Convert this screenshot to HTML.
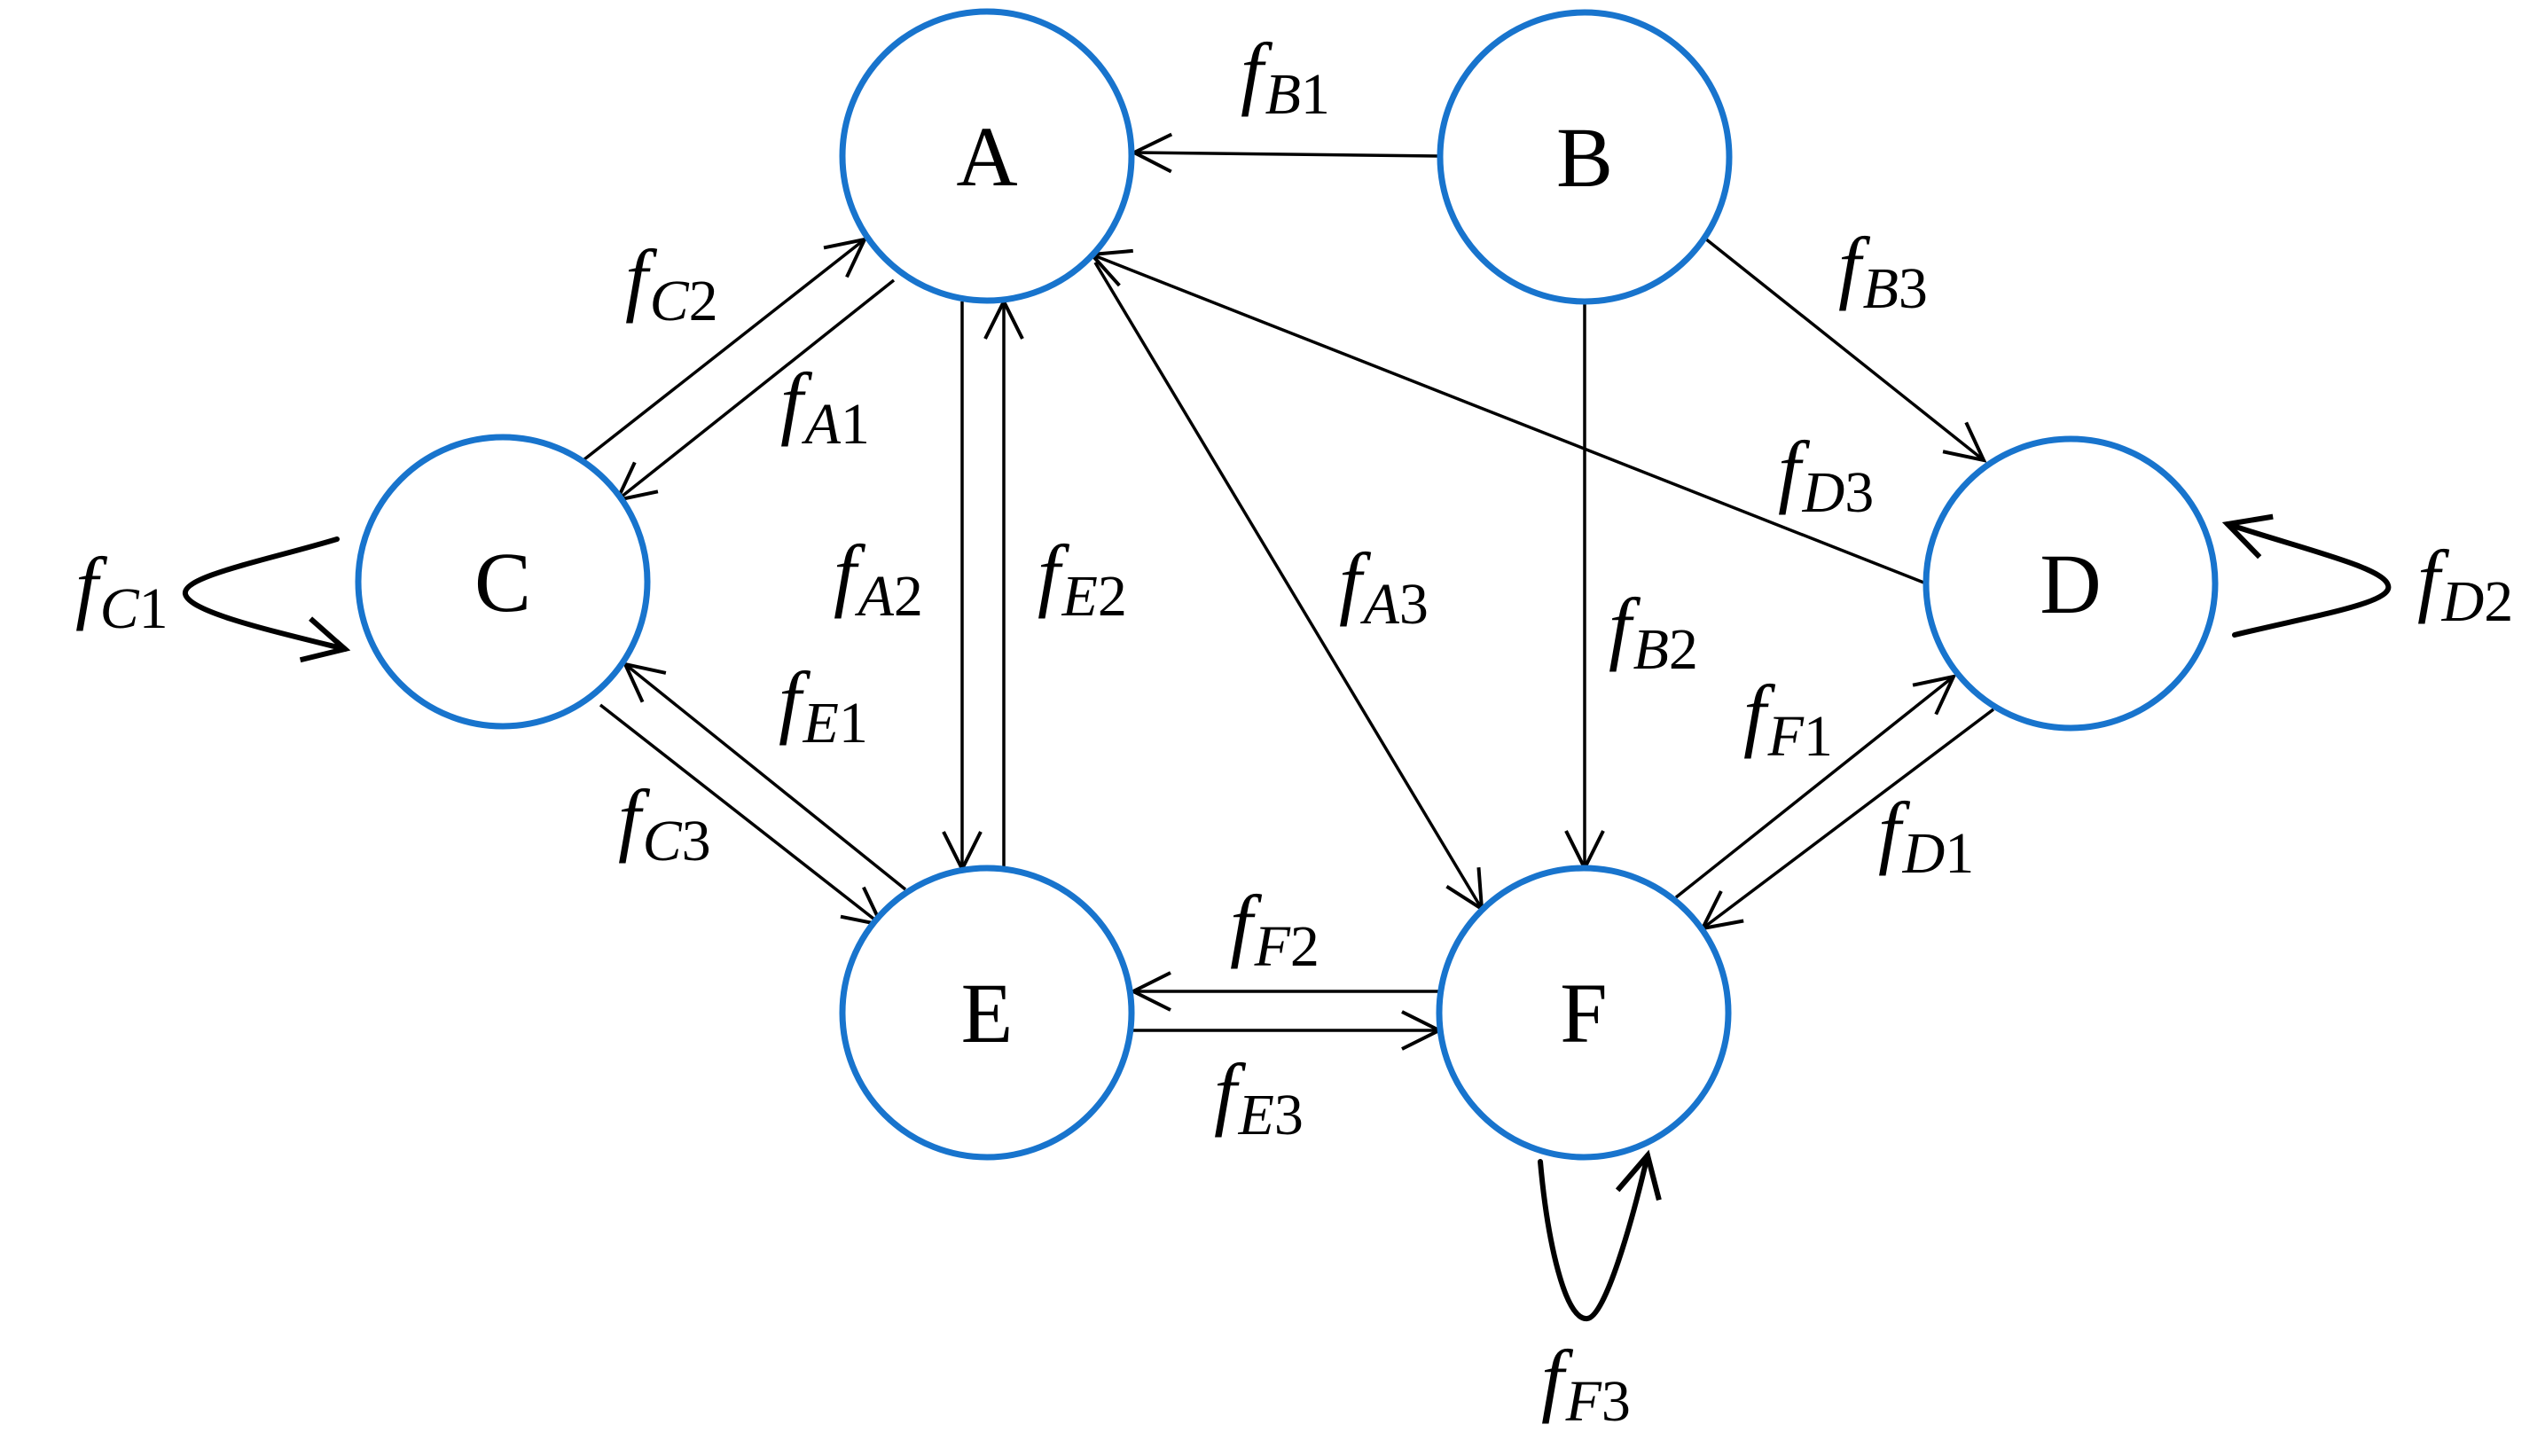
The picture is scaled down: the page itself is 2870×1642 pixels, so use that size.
<!DOCTYPE html>
<html><head><meta charset="utf-8"><style>
html,body{margin:0;padding:0;background:#fff;}
svg{display:block;}
.n{fill:#fff;stroke:#1874CD;stroke-width:7;}
.e{stroke:#000;stroke-width:3.5;fill:none;}
.l{stroke:#000;stroke-width:6;fill:none;stroke-linecap:round;}
.nl{font-family:"Liberation Serif",serif;font-size:96px;text-anchor:middle;fill:#000;}
.lb{font-family:"Liberation Serif",serif;fill:#000;}
</style></head><body>
<svg width="2870" height="1642" viewBox="0 0 2870 1642" xmlns="http://www.w3.org/2000/svg">
<defs>
<marker id="ar" markerUnits="userSpaceOnUse" markerWidth="80" markerHeight="80" refX="0" refY="0" viewBox="-60 -40 70 80" orient="auto">
<path d="M-42,-21 L0,0 L-42,21" fill="none" stroke="#000" stroke-width="4"/>
</marker>
<marker id="ar2" markerUnits="userSpaceOnUse" markerWidth="90" markerHeight="90" refX="0" refY="0" viewBox="-60 -45 70 90" orient="auto">
<path d="M-46,-24 L0,0 L-46,24" fill="none" stroke="#000" stroke-width="6"/>
</marker>
</defs>

<line class="e" x1="1623" y1="176" x2="1279" y2="172" marker-end="url(#ar)"/>
<line class="e" x1="1923" y1="269" x2="2237" y2="519" marker-end="url(#ar)"/>
<line class="e" x1="1787" y1="340" x2="1787" y2="979" marker-end="url(#ar)"/>
<line class="e" x1="659" y1="518" x2="975" y2="270" marker-end="url(#ar)"/>
<line class="e" x1="1008" y1="316" x2="696" y2="564" marker-end="url(#ar)"/>
<line class="e" x1="1085" y1="340" x2="1085" y2="980" marker-end="url(#ar)"/>
<line class="e" x1="1132" y1="980" x2="1132" y2="340" marker-end="url(#ar)"/>
<line class="e" x1="1235" y1="296" x2="1671" y2="1025" marker-end="url(#ar)"/>
<line class="e" x1="2172" y1="658" x2="1231" y2="287" marker-end="url(#ar)"/>
<line class="e" x1="677" y1="795" x2="994" y2="1043" marker-end="url(#ar)"/>
<line class="e" x1="1021" y1="1003" x2="705" y2="749" marker-end="url(#ar)"/>
<line class="e" x1="1623" y1="1118" x2="1278" y2="1118" marker-end="url(#ar)"/>
<line class="e" x1="1278" y1="1162" x2="1623" y2="1162" marker-end="url(#ar)"/>
<line class="e" x1="1890" y1="1012" x2="2203" y2="763" marker-end="url(#ar)"/>
<line class="e" x1="2248" y1="800" x2="1920" y2="1047" marker-end="url(#ar)"/>

<path class="l" d="M380,608 C300,632 205,650 209,670 C214,690 300,710 389,732" marker-end="url(#ar2)"/>
<path class="l" d="M2520,716 C2610,694 2700,680 2693,660 C2688,640 2600,620 2512,591" marker-end="url(#ar2)"/>
<path class="l" d="M1737,1310 C1745,1400 1765,1490 1790,1487 C1810,1485 1840,1380 1858,1303" marker-end="url(#ar2)"/>

<circle class="n" cx="1113" cy="176" r="163"/>
<circle class="n" cx="1787" cy="177" r="163"/>
<circle class="n" cx="567" cy="656" r="163"/>
<circle class="n" cx="2335" cy="658" r="163"/>
<circle class="n" cx="1113" cy="1142" r="163"/>
<circle class="n" cx="1786" cy="1142" r="163"/>
<text class="nl" x="1113" y="209">A</text>
<text class="nl" x="1787" y="210">B</text>
<text class="nl" x="567" y="689">C</text>
<text class="nl" x="2335" y="691">D</text>
<text class="nl" x="1113" y="1175">E</text>
<text class="nl" x="1786" y="1175">F</text>

<g class="lb">
<text x="1399" y="128"><tspan font-style="italic" font-size="92" dy="-16">f</tspan><tspan font-size="66" dy="16" dx="2"><tspan font-style="italic">B</tspan>1</tspan></text>
<text x="705" y="361"><tspan font-style="italic" font-size="92" dy="-16">f</tspan><tspan font-size="66" dy="16" dx="2"><tspan font-style="italic">C</tspan>2</tspan></text>
<text x="880" y="500"><tspan font-style="italic" font-size="92" dy="-16">f</tspan><tspan font-size="66" dy="16" dx="2"><tspan font-style="italic">A</tspan>1</tspan></text>
<text x="2073" y="347"><tspan font-style="italic" font-size="92" dy="-16">f</tspan><tspan font-size="66" dy="16" dx="2"><tspan font-style="italic">B</tspan>3</tspan></text>
<text x="2005" y="577"><tspan font-style="italic" font-size="92" dy="-16">f</tspan><tspan font-size="66" dy="16" dx="2"><tspan font-style="italic">D</tspan>3</tspan></text>
<text x="85" y="708"><tspan font-style="italic" font-size="92" dy="-16">f</tspan><tspan font-size="66" dy="16" dx="2"><tspan font-style="italic">C</tspan>1</tspan></text>
<text x="940" y="694"><tspan font-style="italic" font-size="92" dy="-16">f</tspan><tspan font-size="66" dy="16" dx="2"><tspan font-style="italic">A</tspan>2</tspan></text>
<text x="1170" y="694"><tspan font-style="italic" font-size="92" dy="-16">f</tspan><tspan font-size="66" dy="16" dx="2"><tspan font-style="italic">E</tspan>2</tspan></text>
<text x="1510" y="703"><tspan font-style="italic" font-size="92" dy="-16">f</tspan><tspan font-size="66" dy="16" dx="2"><tspan font-style="italic">A</tspan>3</tspan></text>
<text x="1814" y="754"><tspan font-style="italic" font-size="92" dy="-16">f</tspan><tspan font-size="66" dy="16" dx="2"><tspan font-style="italic">B</tspan>2</tspan></text>
<text x="2726" y="700"><tspan font-style="italic" font-size="92" dy="-16">f</tspan><tspan font-size="66" dy="16" dx="2"><tspan font-style="italic">D</tspan>2</tspan></text>
<text x="878" y="837"><tspan font-style="italic" font-size="92" dy="-16">f</tspan><tspan font-size="66" dy="16" dx="2"><tspan font-style="italic">E</tspan>1</tspan></text>
<text x="1966" y="852"><tspan font-style="italic" font-size="92" dy="-16">f</tspan><tspan font-size="66" dy="16" dx="2"><tspan font-style="italic">F</tspan>1</tspan></text>
<text x="697" y="970"><tspan font-style="italic" font-size="92" dy="-16">f</tspan><tspan font-size="66" dy="16" dx="2"><tspan font-style="italic">C</tspan>3</tspan></text>
<text x="2118" y="984"><tspan font-style="italic" font-size="92" dy="-16">f</tspan><tspan font-size="66" dy="16" dx="2"><tspan font-style="italic">D</tspan>1</tspan></text>
<text x="1387" y="1089"><tspan font-style="italic" font-size="92" dy="-16">f</tspan><tspan font-size="66" dy="16" dx="2"><tspan font-style="italic">F</tspan>2</tspan></text>
<text x="1369" y="1279"><tspan font-style="italic" font-size="92" dy="-16">f</tspan><tspan font-size="66" dy="16" dx="2"><tspan font-style="italic">E</tspan>3</tspan></text>
<text x="1738" y="1602"><tspan font-style="italic" font-size="92" dy="-16">f</tspan><tspan font-size="66" dy="16" dx="2"><tspan font-style="italic">F</tspan>3</tspan></text>
</g>
</svg>
</body></html>
